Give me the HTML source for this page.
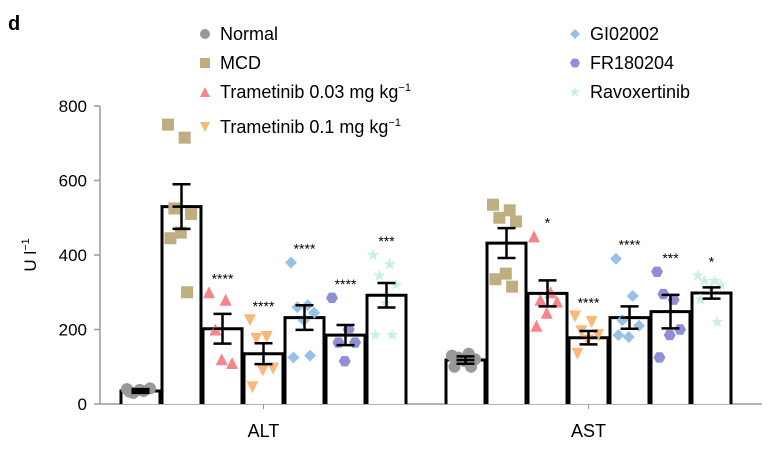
<!DOCTYPE html>
<html><head><meta charset="utf-8"><style>
body{margin:0;background:#fff;}
svg{font-family:"Liberation Sans",Arial,sans-serif;}
</style></head><body>
<svg id="chart" width="775" height="449" viewBox="0 0 775 449" xmlns="http://www.w3.org/2000/svg">
<text x="8" y="30" font-size="20" font-weight="bold">d</text>
<g id="legend"></g>
<g id="axes"></g>
<g id="plot"></g>
</svg>
<script>
const groups = ["ALT","AST"];
const seriesNames = ["Normal","MCD","Trametinib 0.03 mg kg","Trametinib 0.1 mg kg","GI02002","FR180204","Ravoxertinib"];
const colors = ["#999999","#bfae7f","#f7848a","#fcb87b","#99c1e8","#8e8fd4","#c9f2e3"];
const shapes = ["circle","square","tri","tridown","diamond","hex","star"];
const yTicks = [0,200,400,600,800];
const meansALT = [35,530,202,135,232,185,292];
const errALT = [5,60,40,28,33,27,33];
const meansAST = [118,432,297,178,232,248,298];
const errAST = [10,40,35,18,30,45,15];
const sigALT = ["","","****","****","****","****","***"];
const sigAST = ["","","*","****","****","***","*"];
const ptsALT = [
 [40,35,30,42,38,33],
 [750,715,525,510,460,445,300],
 [300,280,200,110,120],
 [225,180,175,95,90,45],
 [380,265,260,245,225,125,130],
 [285,200,165,165,115],
 [400,375,345,320,270,185,185]];
const ptsAST = [
 [130,135,125,120,115,100,100],
 [535,520,500,490,350,335,315],
 [450,300,280,275,245,210],
 [235,220,195,185,170,135],
 [390,290,225,210,180,185],
 [355,280,295,200,185,125],
 [345,330,330,320,310,280,220]];

const NS="http://www.w3.org/2000/svg";
const plot=document.getElementById('plot'), axes=document.getElementById('axes'), leg=document.getElementById('legend');
const y0=404, y1=106, ymax=800;
const yS=v=>y0-(v/ymax)*(y0-y1);
const groupStart=[121,446], step=41, bw=39;
const xS=(g,i)=>groupStart[g]+i*step;
function mk(tag,attrs,parent){const e=document.createElementNS(NS,tag);for(const k in attrs)e.setAttribute(k,attrs[k]);parent.appendChild(e);return e;}
function marker(shape,cx,cy,col,parent,s){
 s=s||5;let e;
 if(shape==="circle")e=mk('circle',{cx,cy,r:s,fill:col},parent);
 else if(shape==="square")e=mk('rect',{x:cx-s,y:cy-s,width:2*s,height:2*s,fill:col},parent);
 else if(shape==="tri")e=mk('polygon',{points:`${cx},${cy-s} ${cx+s},${cy+s} ${cx-s},${cy+s}`,fill:col},parent);
 else if(shape==="tridown")e=mk('polygon',{points:`${cx-s},${cy-s} ${cx+s},${cy-s} ${cx},${cy+s}`,fill:col},parent);
 else if(shape==="diamond")e=mk('polygon',{points:`${cx},${cy-s} ${cx+s},${cy} ${cx},${cy+s} ${cx-s},${cy}`,fill:col},parent);
 else if(shape==="hex"){let p=[];for(let k=0;k<6;k++){const a=Math.PI/3*k;p.push((cx+s*Math.cos(a))+','+(cy+s*Math.sin(a)));}e=mk('polygon',{points:p.join(' '),fill:col},parent);}
 else {let p=[];for(let k=0;k<10;k++){const a=-Math.PI/2+Math.PI/5*k;const r=k%2?s*0.45:s*1.1;p.push((cx+r*Math.cos(a))+','+(cy+r*Math.sin(a)));}e=mk('polygon',{points:p.join(' '),fill:col},parent);}
 return e;
}
let a=mk('line',{x1:100,y1:y1,x2:100,y2:y0,stroke:'#999','stroke-width':1.5},axes);


a=mk('line',{x1:100,y1:y0,x2:762,y2:y0,stroke:'#999','stroke-width':1.5},axes);


yTicks.forEach(v=>{
 const t=mk('line',{x1:94,y1:yS(v),x2:100,y2:yS(v),stroke:'#999','stroke-width':1.5},axes);
 
 
 const l=mk('text',{x:87,y:yS(v)+6,'font-size':17,'text-anchor':'end'},axes);l.textContent=v;
 
 
});
const yl=mk('text',{x:0,y:0,'font-size':17,'text-anchor':'middle',transform:'translate(36,255) rotate(-90)'},axes);
yl.innerHTML='U l<tspan dy="-7" font-size="11">−1</tspan>';


const allMeans=[meansALT,meansAST],allErr=[errALT,errAST],allSig=[sigALT,sigAST],allPts=[ptsALT,ptsAST];
groups.forEach((g,gi)=>{
 const cx=xS(gi,0)+(7*step-2)/2;
 const tk=mk('line',{x1:cx,y1:y0,x2:cx,y2:y0+5,stroke:'#999'},axes);
 
 
 const t=mk('text',{x:cx,y:437,'font-size':18,'text-anchor':'middle'},axes);t.textContent=g;
 
 
 for(let i=0;i<7;i++){
  const x=xS(gi,i),m=allMeans[gi][i],e=allErr[gi][i];
  const b=mk('path',{d:`M${x},${y0}V${yS(m)}H${x+bw}V${y0}`,fill:'#fff',stroke:'#000','stroke-width':3},plot);
  
  
  allPts[gi][i].forEach((v,k)=>{
   const px=x+6+(bw-12)*((k*0.618)%1);
   const p=marker(shapes[i],px,yS(v),colors[i],plot,6);
   
   
  });
  const mx=x+bw/2;
  const eb=mk('path',{d:`M${mx},${yS(m+e)}V${yS(m-e)}M${mx-9},${yS(m+e)}H${mx+9}M${mx-9},${yS(m-e)}H${mx+9}M${mx-9},${yS(m)}H${mx+9}`,stroke:'#000','stroke-width':2.5,fill:'none'},plot);
  
  
  if(allSig[gi][i]){
   const maxp=Math.max(...allPts[gi][i],m+e);
   const s=mk('text',{x:mx,y:yS(maxp)-9,'font-size':14,'text-anchor':'middle'},plot);
   s.textContent=allSig[gi][i];
   
   
  }
 }
});
const legPos=[[205,34],[205,63],[205,92],[205,127],[575,34],[575,63],[575,92]];
seriesNames.forEach((n,i)=>{
 const [lx,ly]=legPos[i];
 const g=mk('g',{},leg);
 
 
 marker(shapes[i],lx,ly,colors[i],g,5);
 const t=mk('text',{x:lx+15,y:ly+6,'font-size':18},g);
 if(i===2||i===3)t.innerHTML=n+'<tspan dy="-7" font-size="11">−1</tspan>';else t.textContent=n;
});
</script>
</body></html>
